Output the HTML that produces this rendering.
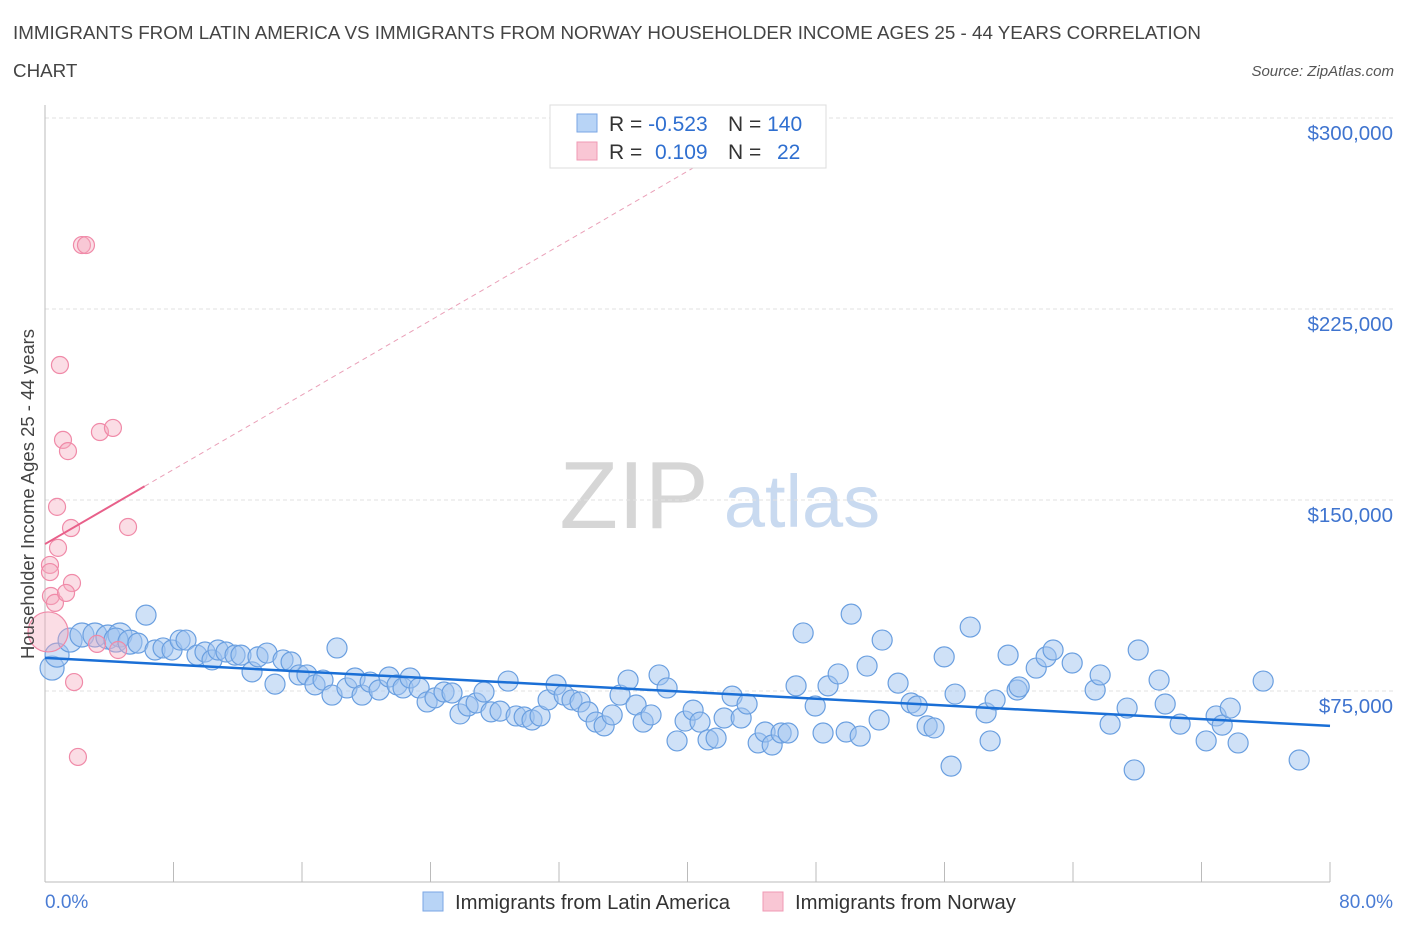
<!DOCTYPE html>
<html><head><meta charset="utf-8"><style>
body{margin:0;background:#fff;width:1406px;height:930px;overflow:hidden;font-family:"Liberation Sans",sans-serif}
svg text{font-family:"Liberation Sans",sans-serif}
</style></head><body>
<svg id="chart" width="1406" height="930" xmlns="http://www.w3.org/2000/svg">
<text x="13" y="39" font-size="18.8" fill="#444">IMMIGRANTS FROM LATIN AMERICA VS IMMIGRANTS FROM NORWAY HOUSEHOLDER INCOME AGES 25 - 44 YEARS CORRELATION</text>
<text x="13" y="77" font-size="18.8" fill="#444">CHART</text>
<text x="1394" y="76" font-size="15" fill="#555" font-style="italic" text-anchor="end">Source: ZipAtlas.com</text>
<g>
<text x="634" y="528" font-size="96" fill="#d6d6d6" font-family="Liberation Serif" text-anchor="middle">ZIP</text>
<text x="802" y="527" font-size="74" fill="#c9daf0" text-anchor="middle">atlas</text>
</g>
<g id="grid"></g><g id="axes"></g><g id="pts"></g><g id="trend"></g>
<text transform="translate(34,494) rotate(-90)" font-size="18.5" fill="#444" text-anchor="middle">Householder Income Ages 25 - 44 years</text>
<text x="45" y="908" font-size="19" fill="#4a7cd4">0.0%</text>
<text x="1393" y="908" font-size="19" fill="#4a7cd4" text-anchor="end">80.0%</text>
<g>
<rect x="550" y="105" width="276" height="63" fill="#fff" stroke="#ddd"/>
<rect x="577" y="114" width="20" height="18" fill="#b8d4f6" stroke="#7aa6e4"/>
<rect x="577" y="142" width="20" height="18" fill="#f9c6d4" stroke="#f09ab4"/>
<text x="609" y="131" font-size="21" fill="#333">R = <tspan fill="#2f6fd0">-0.523</tspan><tspan x="728">N = </tspan><tspan fill="#2f6fd0">140</tspan></text>
<text x="609" y="159" font-size="21" fill="#333">R = <tspan x="655" fill="#2f6fd0">0.109</tspan><tspan x="728">N = </tspan><tspan x="777" fill="#2f6fd0">22</tspan></text>
</g>
<g>
<rect x="423" y="892" width="20" height="19" fill="#b8d4f6" stroke="#7aa6e4"/>
<text x="455" y="909" font-size="20.3" fill="#333">Immigrants from Latin America</text>
<rect x="763" y="892" width="20" height="19" fill="#f9c6d4" stroke="#f09ab4"/>
<text x="795" y="909" font-size="20.3" fill="#333">Immigrants from Norway</text>
</g>
</svg>
<script>
const yTicks=[75000,150000,225000,300000];
const yTickLabels=["$75,000","$150,000","$225,000","$300,000"];
const blueX=[.44,.75,1.56,2.30,3.11,3.92,4.67,4.42,5.29,6.29,5.79,6.85,7.35,7.91,8.41,8.78,9.46,9.96,10.40,10.77,11.27,11.83,12.20,12.89,13.26,13.82,14.32,14.82,15.32,15.82,16.31,16.81,17.31,17.87,18.18,18.80,19.30,19.74,20.24,20.80,21.42,21.92,22.29,22.73,23.29,23.79,24.28,24.84,25.34,25.84,26.34,26.84,27.33,27.77,28.33,28.83,29.33,29.83,30.32,30.82,31.32,31.82,32.32,32.81,33.31,33.81,34.31,34.81,35.31,35.80,36.30,36.80,37.24,37.73,38.23,38.73,39.35,39.85,40.35,40.78,41.28,41.78,42.28,42.78,43.34,43.71,44.40,44.83,45.27,45.83,46.26,46.76,47.20,47.95,48.44,48.75,49.38,49.88,50.19,50.75,51.18,52.12,51.93,53.11,53.92,54.30,54.92,55.35,55.98,56.41,56.66,57.60,58.59,58.84,59.15,59.96,60.52,60.65,61.71,62.33,62.76,63.95,65.38,65.69,66.31,67.37,67.81,68.06,69.36,69.74,70.67,72.29,72.91,73.29,73.79,74.28,75.84,78.08];
const blueY=[84.0,89.1,95.0,97.0,97.0,96.2,97.0,95.0,94.2,104.8,93.8,91.1,91.9,91.1,95.0,95.0,89.1,90.3,87.2,91.1,90.3,89.1,89.1,82.5,88.4,89.9,77.7,87.2,86.4,81.3,81.3,77.4,79.3,73.4,91.9,76.2,80.1,73.4,78.5,75.4,80.5,77.4,76.2,80.1,76.2,70.7,72.3,74.6,74.2,66.0,69.1,70.3,74.6,66.8,67.1,78.9,65.2,64.8,63.6,65.2,71.5,77.4,73.4,71.5,70.7,66.8,62.8,61.3,65.6,73.4,79.3,69.5,62.8,65.6,81.3,76.2,55.4,63.2,67.5,62.8,55.8,56.5,64.4,73.0,64.4,69.9,54.6,58.9,53.8,58.5,58.5,77.0,97.8,69.1,58.5,77.0,81.7,58.9,105.2,57.3,84.8,95.0,63.6,78.1,70.3,69.1,61.3,60.5,88.4,45.5,73.8,100.1,66.4,55.4,71.5,89.1,75.4,76.6,84.0,88.4,91.1,86.0,75.4,81.3,62.0,68.3,44.0,91.1,79.3,69.9,62.0,55.4,65.2,61.6,68.3,54.6,78.9,47.9];
const pinkX=[.93,1.12,1.43,.75,.81,1.62,1.68,.31,.31,.37,.62,1.31,2.30,2.55,3.42,4.23,5.17,3.24,4.55,1.81,2.05,.19];
const pinkY=[203.0,173.6,169.2,147.3,131.2,139.0,117.4,124.5,121.7,112.3,109.6,113.5,250.1,250.1,176.7,178.3,139.4,93.5,91.1,78.5,49.1,98.2];
const blueTrend=[88.0,61.3];
const pinkTrend=[132.7,3.66];
const NS="http://www.w3.org/2000/svg";
const X=p=>45+p/80*1285;
const Y=v=>691-(v-75000)/75000*191;
function mk(parent,tag,attrs){const e=document.createElementNS(NS,tag);for(const k in attrs)e.setAttribute(k,attrs[k]);document.getElementById(parent).appendChild(e);return e;}
yTicks.forEach((t,i)=>{
  const g=mk('grid','line',{x1:45,x2:1394,y1:Y(t),y2:Y(t),stroke:'#e2e2e2','stroke-dasharray':'4,3'});
  
  
  const l=mk('grid','text',{x:1393,y:Y(t)+22,'font-size':20.5,fill:'#3f74cf','text-anchor':'end'});
  l.textContent=yTickLabels[i];
  
  
});
let a=mk('axes','line',{x1:45,x2:45,y1:105,y2:882,stroke:'#bbb'});


a=mk('axes','line',{x1:45,x2:1330,y1:882,y2:882,stroke:'#bbb'});


for(let i=0;i<=10;i++){const t=mk('axes','line',{x1:X(i*8),x2:X(i*8),y1:862,y2:882,stroke:'#bbb'});

}
blueX.forEach((x,i)=>{const r=i<9?12:10;
const c=mk('pts','circle',{cx:X(x),cy:Y(blueY[i]*1000),r:r,fill:'rgba(160,196,240,0.5)',stroke:'#6a9fe0','stroke-width':1.2});

});
pinkX.forEach((x,i)=>{const r=i==pinkX.length-1?20:8.5;
const c=mk('pts','circle',{cx:X(x),cy:Y(pinkY[i]*1000),r:r,fill:'rgba(245,170,190,0.4)',stroke:'#f08aa8','stroke-width':1.2});

});
let t=mk('trend','line',{x1:X(0),y1:Y(blueTrend[0]*1000),x2:X(80),y2:Y(blueTrend[1]*1000),stroke:'#1a6fd6','stroke-width':2.5});


const pv=x=>(pinkTrend[0]+pinkTrend[1]*x)*1000;
t=mk('trend','line',{x1:X(0),y1:Y(pv(0)),x2:X(6.2),y2:Y(pv(6.2)),stroke:'#e8608a','stroke-width':2});


t=mk('trend','line',{x1:X(6.2),y1:Y(pv(6.2)),x2:X(45),y2:Y(pv(45)),stroke:'#eaa0b8','stroke-width':1,'stroke-dasharray':'5,4'});


</script>
</body></html>
